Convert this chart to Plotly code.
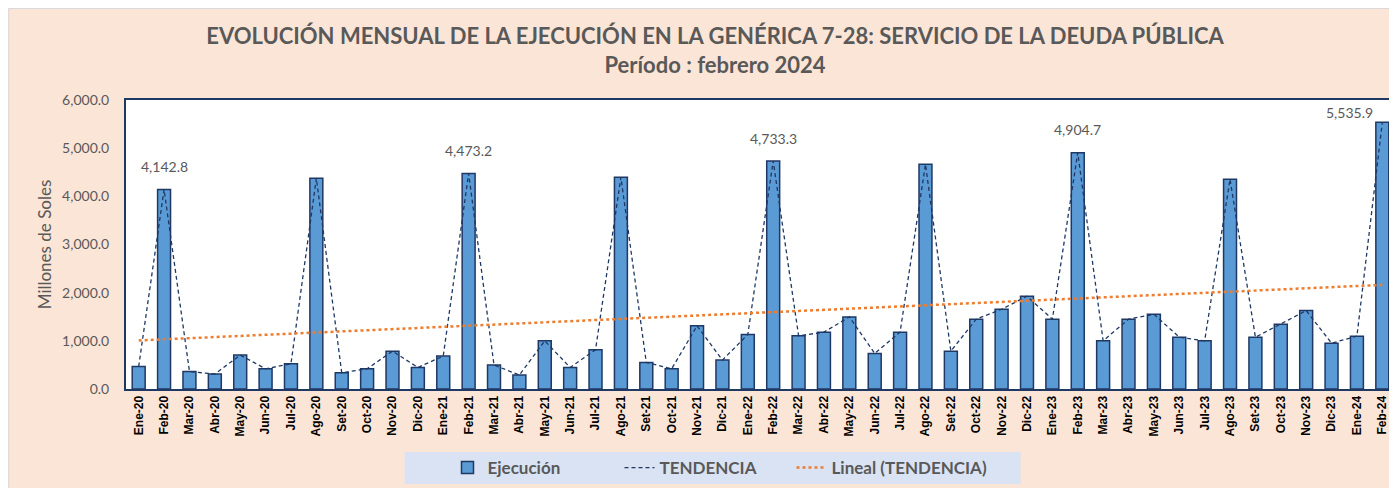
import numpy as np
import plotly.graph_objects as go

meses = [
    "Ene-20", "Feb-20", "Mar-20", "Abr-20", "May-20", "Jun-20", "Jul-20", "Ago-20", "Set-20", "Oct-20", "Nov-20", "Dic-20",
    "Ene-21", "Feb-21", "Mar-21", "Abr-21", "May-21", "Jun-21", "Jul-21", "Ago-21", "Set-21", "Oct-21", "Nov-21", "Dic-21",
    "Ene-22", "Feb-22", "Mar-22", "Abr-22", "May-22", "Jun-22", "Jul-22", "Ago-22", "Set-22", "Oct-22", "Nov-22", "Dic-22",
    "Ene-23", "Feb-23", "Mar-23", "Abr-23", "May-23", "Jun-23", "Jul-23", "Ago-23", "Set-23", "Oct-23", "Nov-23", "Dic-23",
    "Ene-24", "Feb-24",
]
ejecucion = [
    468, 4142.8, 364, 310, 704, 420, 524, 4375, 337, 420, 786, 447,
    683, 4473.2, 497, 290, 1000, 447, 814, 4395, 551, 420, 1311, 600,
    1131, 4733.3, 1104, 1180, 1497, 737, 1180, 4665, 786, 1449, 1656, 1925,
    1449, 4904.7, 1000, 1449, 1553, 1076, 1000, 4354, 1076, 1346, 1628, 952,
    1097, 5535.9,
]
etiquetas_meses = ["Feb-20", "Feb-21", "Feb-22", "Feb-23", "Feb-24"]
y_ticks = [0, 1000, 2000, 3000, 4000, 5000, 6000]

# Linear trendline (Excel "Lineal") fitted to the series
xi = np.arange(1, len(ejecucion) + 1)
slope, intercept = np.polyfit(xi, ejecucion, 1)
lineal = (slope * xi + intercept).tolist()

NAVY = "#1F3864"
GRAY = "#595959"
PEACH = "#FBE5D6"

W, H = 1389, 480
L, T, B, R = 118, 92, 99, 0
PW, PH = W - L - R, H - T - B


def px_x(p):
    return (p - L) / PW


def px_y(p):
    return (H - B - p) / PH


fig = go.Figure()
fig.add_trace(go.Bar(
    x=meses, y=ejecucion, name="Ejecución",
    marker=dict(color="#5B9BD5", line=dict(color=NAVY, width=1.5)),
))
fig.add_trace(go.Scatter(
    x=meses, y=ejecucion, name="TENDENCIA", mode="lines",
    line=dict(color=NAVY, width=1.3, dash="4px,3px"),
))
fig.add_trace(go.Scatter(
    x=meses, y=lineal, name="Lineal (TENDENCIA)", mode="lines",
    line=dict(color="#ED7D31", width=2.5, dash="dot"),
))
# empty spacer entry so the last legend label is not clipped
fig.add_trace(go.Scatter(
    x=[None], y=[None], name=" ", mode="lines",
    line=dict(color="rgba(0,0,0,0)", width=0), hoverinfo="skip",
))

for m in etiquetas_meses:
    v = ejecucion[meses.index(m)]
    last = m == meses[-1]
    fig.add_annotation(
        x=m, y=v, text=f"{v:,.1f}", showarrow=False,
        yshift=10 if last else 23, xshift=-33 if last else 0,
        font=dict(family="Lato", size=14, color=GRAY),
    )

# outer thin border
fig.add_shape(type="rect", xref="paper", yref="paper", layer="below",
              x0=px_x(0.5), x1=px_x(W + 2), y0=px_y(H + 2), y1=px_y(0.5),
              fillcolor=PEACH, line=dict(color="#D9D9D9", width=1))
# plot area background
fig.add_shape(type="rect", xref="paper", yref="paper", layer="below",
              x0=0, x1=1, y0=0, y1=1, fillcolor="white", line=dict(width=0))
# legend box
fig.add_shape(type="rect", xref="paper", yref="paper", layer="below",
              x0=px_x(397), x1=px_x(1014), y0=px_y(476), y1=px_y(444),
              fillcolor="#DAE3F3", line=dict(width=0))

fig.update_layout(
    width=W, height=H,
    margin=dict(l=L, r=R, t=T, b=B),
    paper_bgcolor=PEACH, plot_bgcolor="rgba(0,0,0,0)",
    bargap=0.49,
    title=dict(
        text="<b>EVOLUCIÓN MENSUAL DE LA EJECUCIÓN EN LA GENÉRICA 7-28: SERVICIO DE LA DEUDA PÚBLICA</b><br><b>Período : febrero 2024</b>",
        x=707 / W, xanchor="center", y=0.925, yanchor="top",
        font=dict(family="Lato", size=22, color=GRAY),
    ),
    showlegend=True,
    legend=dict(
        orientation="h", x=px_x(440), xanchor="left", y=px_y(460), yanchor="middle",
        bgcolor="rgba(0,0,0,0)", font=dict(family="Lato", size=17, color=GRAY, weight="bold"),
        entrywidth=127, entrywidthmode="pixels",
    ),
    xaxis=dict(
        type="category", tickangle=-90, showgrid=False,
        tickfont=dict(family="Liberation Sans", size=12, color="black", weight="bold"),
        showline=True, linecolor=NAVY, linewidth=2, mirror=True, ticks="",
    ),
    yaxis=dict(
        range=[0, 6000], tickvals=y_ticks, tickformat=",.1f", showgrid=False,
        zeroline=False, showline=True, linecolor=NAVY, linewidth=2, mirror=True,
        tickfont=dict(family="Lato", size=14, color=GRAY), ticks="",
        ticklabelstandoff=12,
        title=dict(text="Millones de Soles", font=dict(family="Lato", size=17, color=GRAY), standoff=6),
    ),
)

fig.write_html("out.html")
